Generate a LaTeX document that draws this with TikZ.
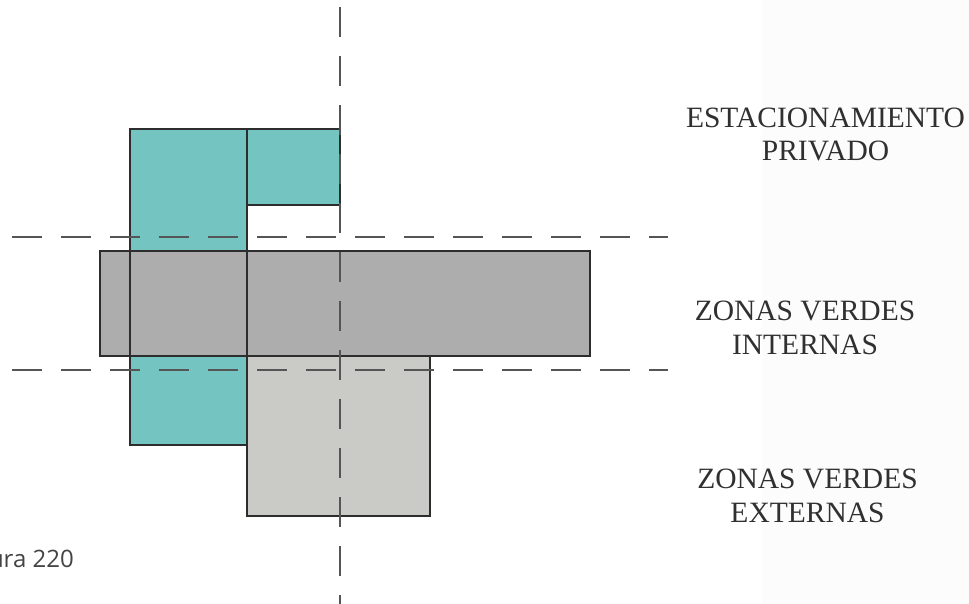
\documentclass[tikz,border=0pt]{standalone}
\usepackage{fontspec}
\setmainfont{Liberation Serif}
\newfontfamily\capfont{Open Sans}
\definecolor{tealfill}{RGB}{116,196,194}
\definecolor{grayfill}{RGB}{173,173,173}
\definecolor{lightfill}{RGB}{202,202,198}
\definecolor{edge}{RGB}{45,45,45}
\definecolor{dashcol}{RGB}{85,85,85}
\definecolor{txt}{RGB}{48,48,48}
\definecolor{captxt}{RGB}{68,68,68}
\definecolor{paper}{RGB}{252,252,252}
\tikzset{
  zone/.style={draw=edge, line width=1.5pt},
  axis/.style={draw=dashcol, line width=1.8pt, dash pattern=on 30pt off 19pt},
  lbl/.style={font=\fontsize{29.5}{33}\selectfont, text=txt, anchor=base, inner sep=0pt},
}
\begin{document}
\begin{tikzpicture}[x=1pt,y=-1pt]
\useasboundingbox (0,0) rectangle (969,604);
\fill[white] (0,0) rectangle (969,604);
\fill[paper] (762,0) rectangle (969,604);
% fills
\fill[tealfill] (130,129) rectangle (247,445);
\fill[tealfill] (247,129) rectangle (340,205);
\fill[lightfill] (247,356) rectangle (430,516);
\fill[grayfill] (100,251) rectangle (590,356);
% outlines
\draw[zone] (130,129) rectangle (247,445);
\draw[zone] (247,129) rectangle (340,205);
\draw[zone] (247,356) rectangle (430,516);
\draw[zone] (100,251) rectangle (590,356);
\draw[zone] (130,251) -- (130,356);
\draw[zone] (247,251) -- (247,356);
% axes
\coordinate (h1a) at (12,237);
\coordinate (h1b) at (668,237);
\coordinate (h2a) at (12,370);
\coordinate (h2b) at (668,370);
\coordinate (va) at (340,7);
\coordinate (vb) at (340,604);
\draw[axis] (h1a) -- (h1b);
\draw[axis] (h2a) -- (h2b);
\draw[axis] (va) -- (vb);
% labels
\node[lbl] (e1) at (825.5,128) {ESTACIONAMIENTO};
\node[lbl] (e2) at (825.5,161) {PRIVADO};
\node[lbl] (i1) at (805,320) {ZONAS VERDES};
\node[lbl] (i2) at (805,354) {INTERNAS};
\node[lbl] (x1) at (807.5,488) {ZONAS VERDES};
\node[lbl] (x2) at (807.5,522) {EXTERNAS};
\node[font=\capfont\fontsize{24}{28}\selectfont, text=captxt, anchor=base east, inner sep=0pt] (fig) at (74,567) {ura 220};
\end{tikzpicture}
\end{document}
